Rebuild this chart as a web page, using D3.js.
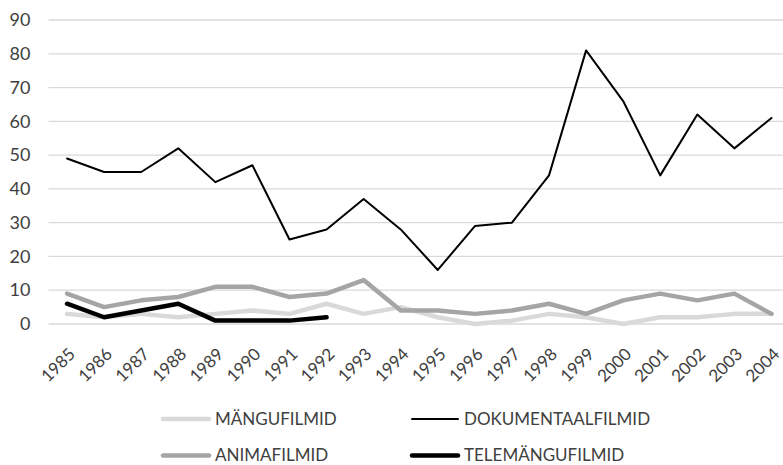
<!DOCTYPE html>
<html>
<head>
<meta charset="utf-8">
<script src="https://cdn.jsdelivr.net/npm/d3@7"></script>
<style>
  body { margin: 0; background: #fff; }
  svg { display: block; font-family: Lato, "Noto Sans", sans-serif; }
</style>
</head>
<body>
<div id="chart"></div>
<script>
const years = ['1985', '1986', '1987', '1988', '1989', '1990', '1991', '1992', '1993', '1994',
    '1995', '1996', '1997', '1998', '1999', '2000', '2001', '2002', '2003', '2004'];
const yTicks = [0, 10, 20, 30, 40, 50, 60, 70, 80, 90];

const mangufilmid = [3, 2, 3, 2, 3, 4, 3, 6, 3, 5, 2, 0, 1, 3, 2, 0, 2, 2, 3, 3];
const dokumentaalfilmid = [49, 45, 45, 52, 42, 47, 25, 28, 37, 28, 16, 29, 30, 44, 81, 66, 44, 62, 52, 61];
const animafilmid = [9, 5, 7, 8, 11, 11, 8, 9, 13, 4, 4, 3, 4, 6, 3, 7, 9, 7, 9, 3];
const telemangufilmid = [6, 2, 4, 6, 1, 1, 1, 2];

const series = [
    { name: 'MÄNGUFILMID', values: mangufilmid, color: '#d9d9d9', width: 4.5 },
    { name: 'DOKUMENTAALFILMID', values: dokumentaalfilmid, color: '#000000', width: 2 },
    { name: 'ANIMAFILMID', values: animafilmid, color: '#a5a5a5', width: 4.5 },
    { name: 'TELEMÄNGUFILMID', values: telemangufilmid, color: '#000000', width: 4.5 }
];

const width = 783, height = 465;
const plot = { left: 48.5, right: 790, top: 20, bottom: 324 };

const svg = d3.select('#chart').append('svg')
    .attr('width', width)
    .attr('height', height);

const xScale = d3.scaleBand()
    .domain(years)
    .range([plot.left, plot.right]);
const xPos = d => xScale(d) + xScale.bandwidth() / 2;

const yScale = d3.scaleLinear()
    .domain([0, 90])
    .range([plot.bottom, plot.top]);

// gridlines
svg.append('g')
    .selectAll('line')
    .data(yTicks)
    .join('line')
    .attr('x1', plot.left)
    .attr('x2', plot.right)
    .attr('y1', d => yScale(d))
    .attr('y2', d => yScale(d))
    .attr('stroke', '#d9d9d9')
    .attr('stroke-width', 1.3);

// y axis labels
const yAxis = svg.append('g')
    .attr('transform', `translate(${plot.left - 18}, 0)`)
    .call(d3.axisLeft(yScale).tickValues(yTicks).tickSize(0).tickPadding(0));
yAxis.select('.domain').remove();
yAxis.selectAll('text')
    .attr('font-family', 'Lato, "Noto Sans", sans-serif')
    .attr('font-size', 18)
    .attr('fill', '#404040');

// x axis labels
const xAxis = svg.append('g')
    .attr('transform', `translate(0, ${plot.bottom})`)
    .call(d3.axisBottom(xScale).tickSize(0).tickPadding(0));
xAxis.select('.domain').remove();
xAxis.selectAll('text')
    .attr('font-family', 'Lato, "Noto Sans", sans-serif')
    .attr('font-size', 17)
    .attr('fill', '#404040')
    .attr('text-anchor', 'end')
    .attr('y', 0)
    .attr('dy', '0.35em')
    .attr('transform', 'translate(5, 27) rotate(-45)');

// lines
const lineGenerator = d3.line()
    .x((d, i) => xPos(years[i]))
    .y(d => yScale(d));

svg.append('g')
    .selectAll('path')
    .data(series)
    .join('path')
    .attr('fill', 'none')
    .attr('stroke', d => d.color)
    .attr('stroke-width', d => d.width)
    .attr('stroke-linejoin', 'round')
    .attr('stroke-linecap', 'round')
    .attr('d', d => lineGenerator(d.values));

// legend
const legendPos = [
    { x: 163, y: 419 },
    { x: 412, y: 419 },
    { x: 163, y: 455.5 },
    { x: 412, y: 455.5 }
];
const legend = svg.append('g')
    .selectAll('g')
    .data(series)
    .join('g')
    .attr('transform', (d, i) => `translate(${legendPos[i].x}, ${legendPos[i].y})`);
legend.append('line')
    .attr('x1', 0)
    .attr('x2', 46)
    .attr('stroke', d => d.color)
    .attr('stroke-width', d => d.width)
    .attr('stroke-linecap', 'round');
legend.append('text')
    .attr('x', 52)
    .attr('dy', '0.35em')
    .attr('font-size', 17)
    .attr('fill', '#404040')
    .text(d => d.name);
</script>
</body>
</html>
